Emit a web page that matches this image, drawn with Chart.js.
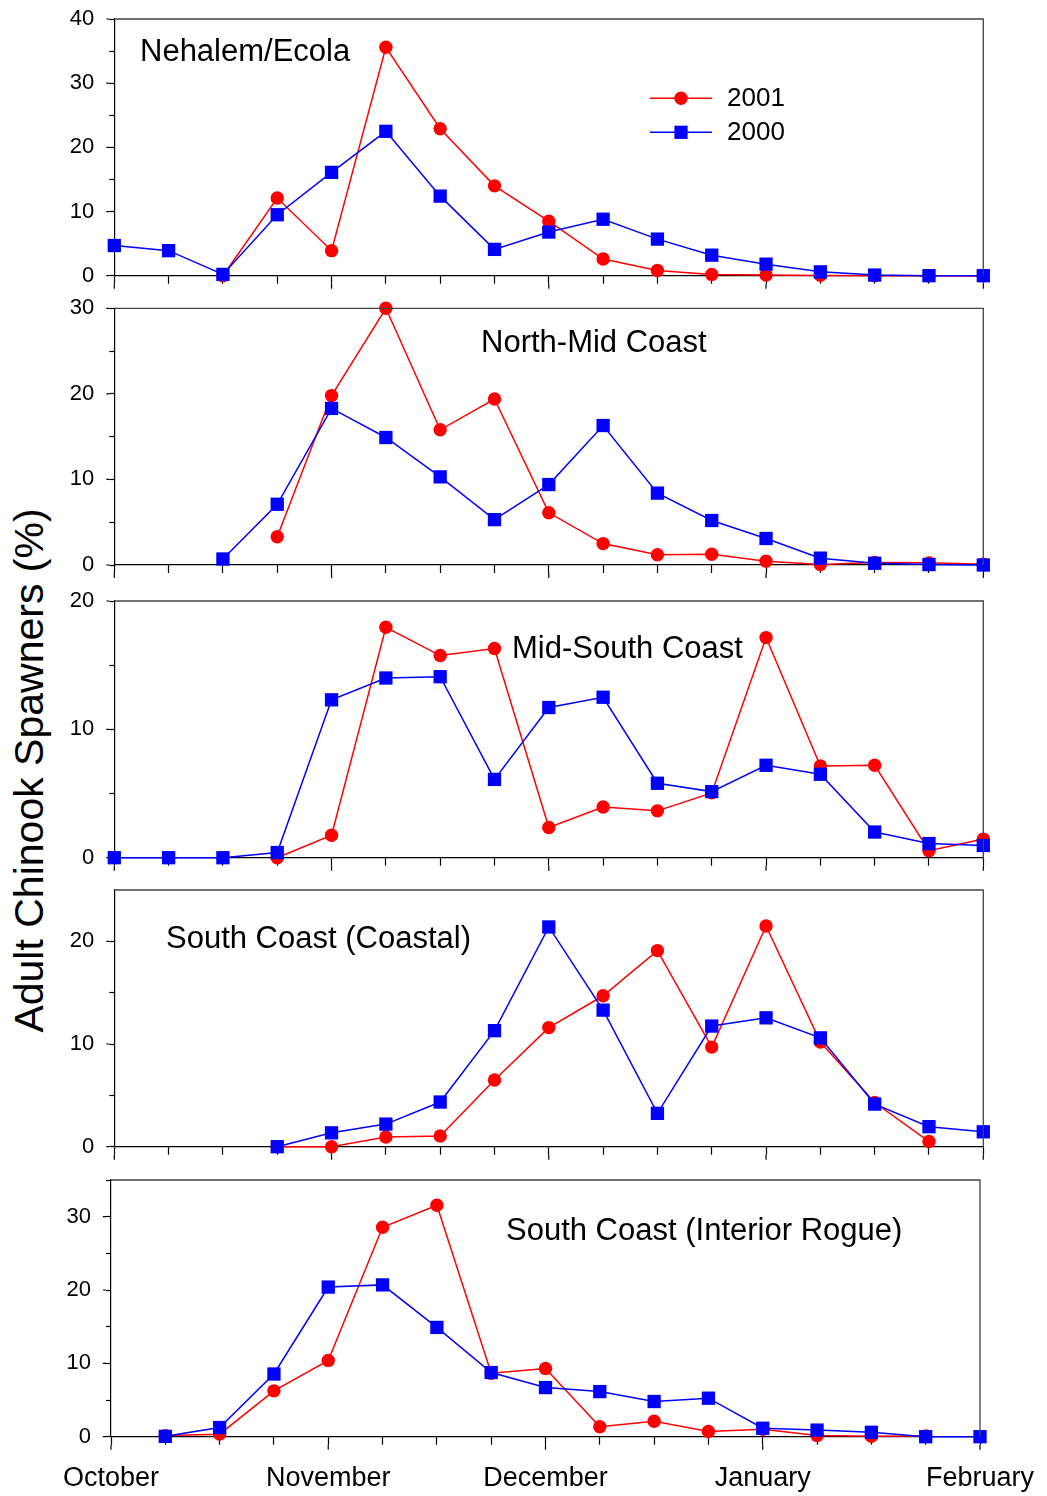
<!DOCTYPE html>
<html lang="en">
<head>
<meta charset="UTF-8">
<title>Adult Chinook Spawners</title>
<script src="https://cdn.jsdelivr.net/npm/chart.js"></script>
<style>
  body { margin: 0; background: #fff; }
  #page { position: relative; width: 1047px; height: 1496px; overflow: hidden;
          font-family: "Liberation Sans", Arial, sans-serif; }
  #page canvas { position: absolute; left: 0; }
  #ytitle { position: absolute; left: -271px; top: 750px; width: 600px; height: 41px;
            line-height: 41px; font-size: 41px; text-align: center; white-space: nowrap;
            color: #000; transform: rotate(-90deg); }
</style>
</head>
<body>
<div id="page">
  <div id="ytitle">Adult Chinook Spawners (%)</div>
</div>

<script>
// semanas de octubre a febrero
const weeks = [1, 2, 3, 4, 5, 6, 7, 8, 9, 10, 11, 12, 13, 14, 15, 16, 17];
const monthLabels = ['October', '', '', '', 'November', '', '', '', 'December', '', '', '', 'January', '', '', '', 'February'];

const nehalem2001 = [null, null, 0, 12.1, 3.9, 35.6, 22.9, 14.0, 8.5, 2.6, 0.8, 0.2, 0.1, 0.05, 0, 0, 0];
const nehalem2000 = [4.7, 3.9, 0.2, 9.5, 16.1, 22.5, 12.4, 4.1, 6.8, 8.8, 5.7, 3.2, 1.8, 0.6, 0.1, 0, 0];

const northMid2001 = [null, null, null, 3.3, 19.8, 30.0, 15.8, 19.4, 6.1, 2.5, 1.2, 1.25, 0.45, 0.05, 0.3, 0.25, 0.1];
const northMid2000 = [null, null, 0.7, 7.1, 18.3, 14.9, 10.3, 5.3, 9.4, 16.3, 8.4, 5.2, 3.1, 0.8, 0.2, 0.05, 0];

const midSouth2001 = [null, null, null, 0, 1.75, 17.95, 15.75, 16.3, 2.35, 3.95, 3.65, 5.05, 17.15, 7.15, 7.2, 0.55, 1.45];
const midSouth2000 = [0, 0, 0, 0.4, 12.3, 14.0, 14.1, 6.1, 11.7, 12.5, 5.8, 5.15, 7.2, 6.5, 2.0, 1.1, 0.95];

const coastal2001 = [null, null, null, 0, 0, 0.95, 1.05, 6.5, 11.6, 14.7, 19.1, 9.7, 21.5, 10.2, 4.3, 0.5, null];
const coastal2000 = [null, null, null, 0, 1.35, 2.2, 4.35, 11.3, 21.4, 13.3, 3.25, 11.75, 12.55, 10.6, 4.15, 1.95, 1.45];

const rogue2001 = [null, 0.15, 0.35, 6.25, 10.4, 28.55, 31.55, 8.65, 9.3, 1.35, 2.1, 0.7, 1.0, 0.15, 0.05, 0.1, null];
const rogue2000 = [null, 0.05, 1.25, 8.55, 20.4, 20.7, 14.9, 8.75, 6.7, 6.15, 4.8, 5.25, 1.15, 0.9, 0.6, 0, 0];

const FONT = '"Liberation Sans", Arial, sans-serif';
const RED = '#ff0000';
const BLUE = '#0000ff';
const FRAME = '#444';
const CANVAS_W = 1120;   // mas ancho que la pagina para que "February" no empuje el area
const PAD = 36;          // margen arriba/abajo para que el layout no mueva el area

Chart.defaults.color = '#000';
Chart.defaults.font.family = FONT;

// posicion de cada panel en la pagina
const panels = [
    { title: 'Nehalem/Ecola', a: nehalem2001, b: nehalem2000, max: 40,
      top: 19, zero: 275.7, left: 114.3, right: 983.3, tx: 140, ty: 61, legend: true },
    { title: 'North-Mid Coast', a: northMid2001, b: northMid2000, max: 30,
      top: 308.3, zero: 565, left: 114.3, right: 983.3, tx: 481, ty: 352 },
    { title: 'Mid-South Coast', a: midSouth2001, b: midSouth2000, max: 20,
      top: 601, zero: 857.7, left: 114.3, right: 983.3, tx: 512, ty: 658 },
    { title: 'South Coast (Coastal)', a: coastal2001, b: coastal2000, max: 25,
      top: 890, zero: 1146.7, left: 114.3, right: 983.3, tx: 166, ty: 948, noTopTick: true },
    { title: 'South Coast (Interior Rogue)', a: rogue2001, b: rogue2000, max: 35,
      top: 1180, zero: 1436.7, left: 111, right: 980, tx: 506, ty: 1240, months: true }
];

function marker(ctx, style, x, y, color) {
    ctx.fillStyle = color;
    if (style === 'circle') {
        ctx.beginPath();
        ctx.arc(x, y, 6.7, 0, Math.PI * 2);
        ctx.fill();
    } else {
        ctx.fillRect(x - 6.6, y - 6.6, 13.2, 13.2);
    }
}

const page = document.getElementById('page');

panels.forEach(p => {
    const canvasTop = Math.floor(p.top - PAD);
    const xH = p.months ? 62 : PAD;
    const plotBottom = p.zero - canvasTop;
    const height = Math.ceil(plotBottom + xH);

    const canvas = document.createElement('canvas');
    canvas.width = CANVAS_W;
    canvas.height = height;
    canvas.style.top = canvasTop + 'px';
    page.appendChild(canvas);

    const framePlugin = {
        id: 'frame',
        afterDraw(chart) {
            const ctx = chart.ctx;
            const area = chart.chartArea;
            const xs = chart.scales.x;
            const ys = chart.scales.y;
            ctx.save();
            // marco superior y derecho
            ctx.strokeStyle = FRAME;
            ctx.lineWidth = 1.3;
            ctx.beginPath();
            ctx.moveTo(area.left, area.top);
            ctx.lineTo(area.right, area.top);
            ctx.lineTo(area.right, area.bottom);
            ctx.stroke();

            // ticks mayores mas largos
            ctx.strokeStyle = '#000';
            ctx.lineWidth = 1.2;
            ctx.beginPath();
            monthLabels.forEach((m, i) => {
                if (m) {
                    const x = xs.getPixelForValue(i);
                    ctx.moveTo(x, area.bottom + 8);
                    ctx.lineTo(x, area.bottom + 13);
                }
            });
            for (let v = 0; v <= p.max; v += 10) {
                const y = ys.getPixelForValue(v);
                ctx.moveTo(area.left - 5, y);
                ctx.lineTo(area.left - 8, y);
            }
            ctx.stroke();

            // titulo del panel
            ctx.fillStyle = '#000';
            ctx.font = '31px ' + FONT;
            ctx.textAlign = 'left';
            ctx.textBaseline = 'alphabetic';
            ctx.fillText(p.title, p.tx, p.ty - canvasTop);

            if (p.legend) {
                const rows = [
                    { label: '2001', color: RED, style: 'circle', y: 98.3 },
                    { label: '2000', color: BLUE, style: 'rect', y: 132.3 }
                ];
                ctx.font = '26px ' + FONT;
                rows.forEach(r => {
                    const y = r.y - canvasTop;
                    ctx.strokeStyle = r.color;
                    ctx.lineWidth = 1.5;
                    ctx.beginPath();
                    ctx.moveTo(650, y);
                    ctx.lineTo(712, y);
                    ctx.stroke();
                    marker(ctx, r.style, 681, y, r.color);
                    ctx.fillStyle = '#000';
                    ctx.textBaseline = 'middle';
                    ctx.fillText(r.label, 727, y + 1);
                });
            }
            ctx.restore();
        }
    };

    new Chart(canvas, {
        type: 'line',
        data: {
            labels: weeks,
            datasets: [
                { label: '2000', data: p.b, order: 0, borderColor: BLUE, backgroundColor: BLUE,
                  borderWidth: 1.5, pointStyle: 'rect', pointRadius: 9.4, pointBorderWidth: 0,
                  tension: 0, clip: false },
                { label: '2001', data: p.a, order: 1, borderColor: RED, backgroundColor: RED,
                  borderWidth: 1.5, pointStyle: 'circle', pointRadius: 6.7, pointBorderWidth: 0,
                  tension: 0, clip: false }
            ]
        },
        options: {
            responsive: false,
            animation: false,
            devicePixelRatio: 1,
            layout: { padding: { top: p.top - canvasTop, left: 0, right: CANVAS_W - p.right, bottom: 0 } },
            plugins: { legend: { display: false }, tooltip: { enabled: false } },
            scales: {
                x: {
                    type: 'category',
                    offset: false,
                    grid: { drawOnChartArea: false, drawTicks: true, tickLength: 8, tickColor: '#000', tickWidth: 1.2 },
                    border: { display: true, color: '#000', width: 1.2 },
                    ticks: {
                        display: !!p.months, autoSkip: false, maxRotation: 0, minRotation: 0,
                        padding: 18, color: '#000', font: { family: FONT, size: 27 },
                        callback: (v, i) => monthLabels[i]
                    },
                    afterFit: s => { s.height = height - plotBottom; }
                },
                y: {
                    min: 0,
                    max: p.max,
                    grid: {
                        drawOnChartArea: false, drawTicks: true, tickLength: 5, tickWidth: 1.2,
                        tickColor: c => (p.noTopTick && c.tick && c.tick.value === p.max) ? 'rgba(0,0,0,0)' : '#000'
                    },
                    border: { display: true, color: '#000', width: 1.2 },
                    ticks: {
                        stepSize: 5, padding: 15, color: '#000', font: { family: FONT, size: 22 },
                        callback: v => (v % 10 === 0 ? v : '')
                    },
                    afterFit: s => { s.width = p.left; }
                }
            }
        },
        plugins: [framePlugin]
    });
});
</script>
</body>
</html>
